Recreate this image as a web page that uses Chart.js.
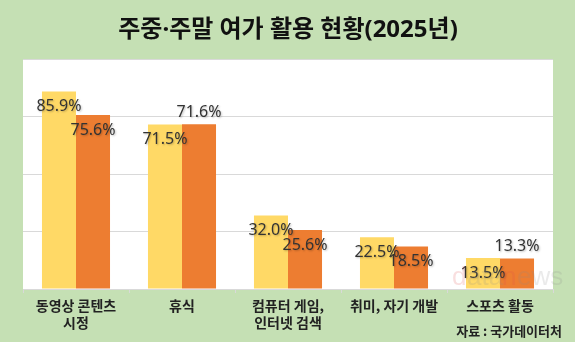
<!DOCTYPE html>
<html>
<head>
<meta charset="utf-8">
<script src="https://cdn.jsdelivr.net/npm/chart.js@4"></script>
<style>
  html, body { margin: 0; padding: 0; background: #ffffff; }
  #wrap { width: 580px; height: 356px; }
</style>
</head>
<body>
<div id="wrap"><canvas id="c" width="580" height="356"></canvas></div>
<script>
// ---- data ----
const categories = [["동영상 콘텐츠", "시정"], "휴식", ["컴퓨터 게임,", "인터넷 검색"], "취미, 자기 개발", "스포츠 활동"];
const seriesNames = ["주중", "주말"];
const weekdayValues = [85.9, 71.5, 32.0, 22.5, 13.5];
const weekendValues = [75.6, 71.6, 25.6, 18.5, 13.3];
const chartTitle = "주중·주말 여가 활용 현황(2025년)";
const sourceText = "자료 : 국가데이터처";

const bgPlugin = {
  id: 'bgPlugin',
  beforeDraw(chart) {
    const ctx = chart.ctx;
    const a = chart.chartArea;
    ctx.save();
    ctx.fillStyle = '#ffffff';
    ctx.fillRect(0, 0, chart.width, chart.height);
    ctx.fillStyle = '#c5e0b4';
    ctx.fillRect(0, 0, 575, 342);
    ctx.fillStyle = '#ffffff';
    ctx.fillRect(a.left, a.top, a.right - a.left, a.bottom - a.top);
    ctx.restore();
  },
  afterDraw(chart) {
    const ctx = chart.ctx;
    const a = chart.chartArea;
    ctx.save();
    // watermark
    ctx.globalAlpha = 0.18;
    ctx.font = '26px "Liberation Sans", sans-serif';
    ctx.textBaseline = 'alphabetic';
    ctx.textAlign = 'left';
    ctx.fillStyle = '#e05050';
    ctx.fillText('d', 452, a.bottom - 4);
    ctx.fillStyle = '#888888';
    ctx.fillText('ata', 467, a.bottom - 4);
    ctx.fillStyle = '#e05050';
    ctx.fillText('n', 502, a.bottom - 4);
    ctx.fillStyle = '#888888';
    ctx.fillText('ews', 517, a.bottom - 4);
    ctx.globalAlpha = 1;
    // source
    ctx.font = 'bold 13px "Noto Sans CJK KR", sans-serif';
    ctx.fillStyle = '#222222';
    ctx.textAlign = 'right';
    ctx.textBaseline = 'middle';
    ctx.fillText(sourceText, 562, 331);
    ctx.restore();
  }
};

const labelPlugin = {
  id: 'valueLabels',
  afterDatasetsDraw(chart, args, opts) {
    const ctx = chart.ctx;
    ctx.save();
    ctx.font = '16px "Noto Sans", sans-serif';
    ctx.fillStyle = '#333333';
    ctx.textAlign = 'center';
    ctx.textBaseline = 'middle';
    ctx.shadowColor = 'rgba(0,0,0,0.25)';
    ctx.shadowBlur = 2;
    ctx.shadowOffsetX = 1;
    ctx.shadowOffsetY = 1;
    chart.data.datasets.forEach((ds, di) => {
      const meta = chart.getDatasetMeta(di);
      meta.data.forEach((bar, i) => {
        const key = di + ':' + i;
        const above = (opts.above || []).includes(key);
        const y = above ? bar.y - 12 : bar.y + 15;
        ctx.fillText(ds.data[i].toFixed(1) + '%', bar.x, y);
      });
    });
    ctx.restore();
  }
};

new Chart(document.getElementById('c'), {
  type: 'bar',
  data: {
    labels: categories,
    datasets: [
      { label: seriesNames[0], data: weekdayValues, backgroundColor: '#ffd966' },
      { label: seriesNames[1], data: weekendValues, backgroundColor: '#ed7d31' }
    ]
  },
  plugins: [bgPlugin, labelPlugin],
  options: {
    responsive: false,
    animation: false,
    devicePixelRatio: 1,
    layout: { padding: { left: 23, right: 27, top: 0, bottom: 0 } },
    datasets: { bar: { categoryPercentage: 0.642, barPercentage: 1.0 } },
    plugins: {
      legend: { display: false },
      tooltip: { enabled: false },
      title: {
        display: true,
        text: chartTitle,
        color: '#111111',
        font: { family: '"Noto Sans", "Noto Sans CJK KR", sans-serif', size: 24, weight: 'bold', lineHeight: 1.1 },
        padding: { top: 17, bottom: 15.6 }
      },
      valueLabels: { above: ['1:1', '1:4'] }
    },
    scales: {
      x: {
        offset: true,
        grid: { offset: true, drawOnChartArea: false, drawTicks: true, tickLength: 4, color: '#d9d9d9' },
        border: { display: true, color: '#d9d9d9' },
        ticks: {
          color: '#222222',
          padding: 4.5,
          maxRotation: 0,
          autoSkip: false,
          font: { family: '"Noto Sans CJK KR", sans-serif', size: 14, weight: 'bold', lineHeight: 17 / 14 }
        },
        afterFit(scale) { scale.height = 67; }
      },
      y: {
        min: 0,
        max: 100,
        ticks: { display: false, stepSize: 25 },
        grid: { color: '#d9d9d9', drawTicks: false },
        border: { display: false },
        afterFit(scale) { scale.width = 0; }
      }
    }
  }
});
</script>
</body>
</html>
